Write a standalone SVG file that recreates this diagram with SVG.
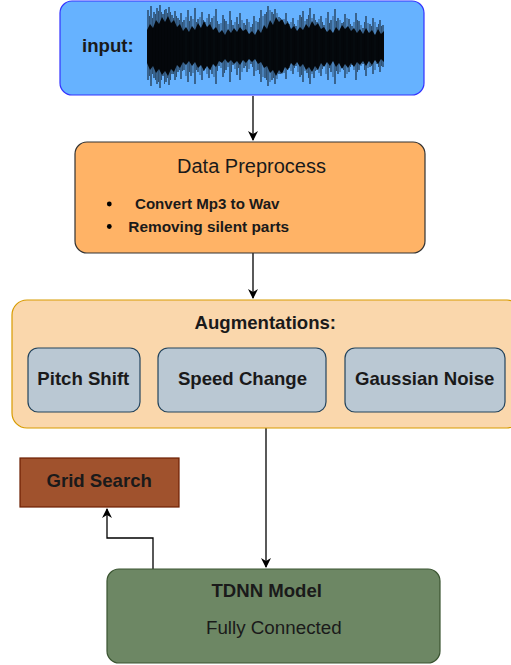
<svg xmlns="http://www.w3.org/2000/svg" width="511" height="665" viewBox="0 0 511 665">
<defs>
<style>
text{font-family:"Liberation Sans",Arial,sans-serif;fill:#1a1a1a}
.b{font-weight:bold}
.c{text-anchor:middle}
.conn{fill:none;stroke:#000;stroke-width:1.3}
.aug{fill:#bac8d3;stroke:#23445d;stroke-width:1.2}
.lbl{font-size:18.6px;font-weight:bold;text-anchor:middle}
</style>
<marker id="arr" viewBox="0 0 10 10" refX="9" refY="5" markerWidth="10" markerHeight="10" markerUnits="userSpaceOnUse" orient="auto">
<path d="M0,0 L10,5 L0,10 L3,5 Z" fill="#000"/>
</marker>
</defs>
<rect width="511" height="665" fill="#fff"/>
<g id="connectors">
<path class="conn" d="M253,96 V140" marker-end="url(#arr)"/>
<path class="conn" d="M253,253 V298" marker-end="url(#arr)"/>
<path class="conn" d="M266,428 V567" marker-end="url(#arr)"/>
<path class="conn" d="M153,569 V538 H107 V509" marker-end="url(#arr)"/>
</g>
<g id="input">
<rect x="60" y="1" width="364" height="94" rx="12" fill="#66b2ff" stroke="#3333ff" stroke-width="1.2"/>
<text x="82" y="52" class="b" font-size="18.6">input:</text>
<g id="waveform">
<path fill="#000" fill-opacity="0.92" d="M147,30 L150,24 L153,28 L156,20 L159,24 L162,17 L165,22 L168,16 L171,23 L174,20 L177,27 L180,24 L183,31 L186,27 L189,32 L192,26 L195,30 L198,23 L201,28 L204,21 L207,27 L210,24 L213,30 L216,27 L219,33 L222,30 L225,35 L228,29 L231,33 L234,28 L237,32 L240,27 L243,31 L246,29 L249,34 L252,31 L255,35 L258,29 L261,33 L264,25 L267,29 L270,20 L273,25 L276,17 L279,22 L282,19 L285,25 L288,22 L291,29 L294,26 L297,31 L300,27 L303,30 L306,24 L309,28 L312,21 L315,26 L318,23 L321,29 L324,27 L327,32 L330,29 L333,33 L336,27 L339,31 L342,25 L345,29 L348,26 L351,31 L354,28 L357,33 L360,29 L363,34 L366,28 L369,33 L372,30 L375,35 L378,29 L381,34 L384,31 L384,62 L381,59 L378,64 L375,60 L372,65 L369,61 L366,66 L363,61 L360,65 L357,62 L354,67 L351,63 L348,68 L345,64 L342,69 L339,63 L336,67 L333,61 L330,66 L327,62 L324,67 L321,63 L318,70 L315,66 L312,72 L309,67 L306,70 L303,64 L300,67 L297,62 L294,66 L291,63 L288,70 L285,67 L282,74 L279,70 L276,76 L273,70 L270,73 L267,66 L264,68 L261,62 L258,64 L255,59 L252,62 L249,59 L246,63 L243,60 L240,65 L237,61 L234,64 L231,60 L228,63 L225,59 L222,63 L219,61 L216,67 L213,64 L210,70 L207,66 L204,71 L201,65 L198,68 L195,62 L192,66 L189,61 L186,65 L183,62 L180,68 L177,65 L174,72 L171,69 L168,76 L165,71 L162,75 L159,69 L156,73 L153,66 L150,70 L147,63 Z"/>
<path fill="none" stroke="#000" stroke-width="1.1" stroke-opacity="0.8" d="M148,10V80M151,6V86M154,12V78M157,8V84M160,5V88M163,14V76M166,9V82M169,7V85M172,15V74M175,11V80M178,18V72M181,13V79M184,20V70M188,10V82M191,16V76M195,8V84M198,19V72M202,12V80M205,22V68M209,14V78M212,18V74M216,9V84M219,24V66M223,15V77M226,21V70M230,11V82M233,25V65M237,17V75M240,13V80M244,23V68M247,19V72M251,27V64M254,16V76M258,22V70M261,10V82M265,14V78M268,6V86M272,12V80M275,9V84M279,17V74M282,20V72M286,13V79M289,24V68M293,18V74M296,26V66M300,15V77M303,11V82M307,19V73M310,8V84M314,14V78M317,22V70M321,16V76M324,25V66M328,12V80M331,20V72M335,9V84M338,18V74M342,23V68M345,14V78M349,19V72M352,26V65M356,13V80M359,21V70M363,28V64M366,16V76M370,24V67M373,18V74M377,27V64M380,20V72M383,25V67"/>
<path fill="none" stroke="#000" stroke-width="0.9" stroke-opacity="0.6" d="M149.5,16V76M152.5,18V74M155.5,14V80M158.5,11V82M161.5,12V80M164.5,10V84M167.5,13V78M170.5,12V80M173.5,18V74M176.5,16V77M179.5,20V70M182.5,22V71M186,17V76M189.5,21V72M193,19V73M196.5,22V70M200,17V75M203.5,20V71M207,18V74M210.5,22V70M214,16V77M217.5,21V71M221,23V68M224.5,19V73M228,24V67M231.5,20V72M235,22V69M238.5,24V68M242,20V72M245.5,25V66M249,22V69M252.5,24V67M256,21V71M259.5,18V74M263,16V77M266.5,12V80M270,10V82M273.5,14V78M277,13V79M280.5,18V74M284,19V73M287.5,21V70M291,22V71M294.5,24V68M298,20V72M301.5,17V75M305,21V71M308.5,15V78M312,18V74M315.5,20V71M319,19V73M322.5,22V69M326,18V74M329.5,23V68M333,16V77M336.5,21V71M340,20V72M343.5,22V70M347,18V74M350.5,24V67M354,22V70M357.5,20V72M361,25V66M364.5,22V70M368,23V68M371.5,26V66M375,22V70M378.5,24V67M381.5,26V66"/>
</g>
</g>
<g id="preprocess">
<rect x="75" y="142" width="350" height="111" rx="12" fill="#ffb366" stroke="#333" stroke-width="1.2"/>
<text x="251.5" y="172.5" class="c" font-size="20">Data Preprocess</text>
<circle cx="109.3" cy="204" r="2.4" fill="#000"/>
<circle cx="109.3" cy="226.5" r="2.4" fill="#000"/>
<text x="135" y="209" class="b" font-size="15.1">Convert Mp3 to Wav</text>
<text x="128.3" y="231.5" class="b" font-size="15.4">Removing silent parts</text>
</g>
<g id="augmentations">
<rect x="12" y="300" width="510" height="128" rx="15" fill="#fad7ac" stroke="#d79b00" stroke-width="1.2"/>
<text x="265.3" y="328.5" class="lbl">Augmentations:</text>
</g>
<g id="pitch">
<rect class="aug" x="28" y="348" width="112" height="64" rx="10"/>
<text x="83.3" y="385" class="lbl">Pitch Shift</text>
</g>
<g id="speed">
<rect class="aug" x="158" y="348" width="168" height="64" rx="10"/>
<text x="242.5" y="385" class="lbl">Speed Change</text>
</g>
<g id="gaussian">
<rect class="aug" x="345" y="348" width="160" height="64" rx="10"/>
<text x="424.7" y="385" class="lbl">Gaussian Noise</text>
</g>
<g id="grid">
<rect x="20" y="458" width="159" height="49" fill="#a0522d" stroke="#6d1f00" stroke-width="1.2"/>
<text x="99.2" y="487" class="lbl">Grid Search</text>
</g>
<g id="tdnn">
<rect x="107" y="569" width="333" height="94" rx="12" fill="#6d8764" stroke="#3a5431" stroke-width="1.2"/>
<text x="266.7" y="597.3" class="lbl">TDNN Model</text>
<text x="273.8" y="633.5" class="c" font-size="18.8">Fully Connected</text>
</g>
</svg>
